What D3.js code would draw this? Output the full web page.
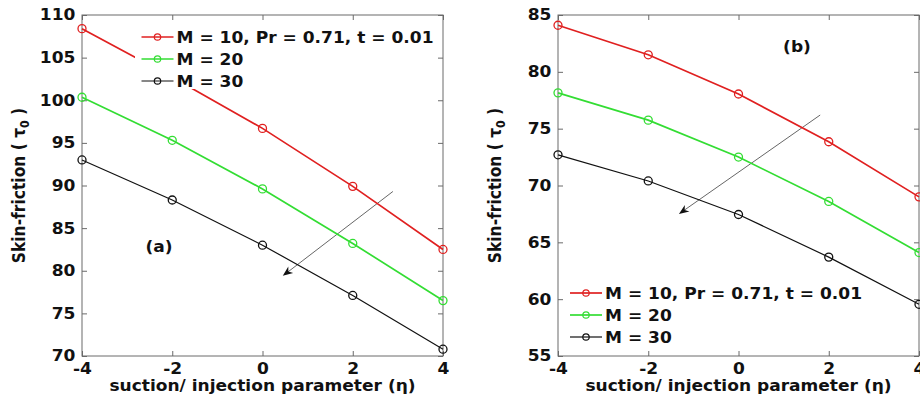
<!DOCTYPE html>
<html>
<head>
<meta charset="utf-8">
<script src="https://cdn.jsdelivr.net/npm/d3@7"></script>
<style>
  html, body { margin: 0; padding: 0; background: #fff; overflow: hidden; }
  svg { display: block; }
  text { font-family: "DejaVu Sans", Verdana, sans-serif; font-weight: bold; fill: #111; }
</style>
</head>
<body>
<svg id="fig" width="920" height="403"></svg>
<script>
// Suction/injection parameter values (x axis)
const eta = [-4, -2, 0, 2, 4];
const xTickLabels = ["-4", "-2", "0", "2", "4"];

// Panel (a): skin-friction for M = 10, 20, 30
const aM10 = [108.4, 102.7, 96.7, 89.9, 82.5];
const aM20 = [100.35, 95.3, 89.6, 83.2, 76.5];
const aM30 = [93.0, 88.3, 83.0, 77.1, 70.8];
const aYTicks = [70, 75, 80, 85, 90, 95, 100, 105, 110];

// Panel (b): skin-friction for M = 10, 20, 30
const bM10 = [84.1, 81.5, 78.05, 73.85, 69.0];
const bM20 = [78.15, 75.75, 72.5, 68.6, 64.1];
const bM30 = [72.7, 70.4, 67.45, 63.7, 59.55];
const bYTicks = [55, 60, 65, 70, 75, 80, 85];

const seriesNames = ["M = 10, Pr = 0.71, t = 0.01", "M = 20", "M = 30"];
const seriesColors = ["#e02020", "#33dd33", "#111111"];
const seriesWidths = [1.7, 1.7, 1.2];

// Arrow annotations (data coordinates: [from, to])
const aArrow = [[2.89, 89.3], [0.45, 79.4]];
const bArrow = [[1.81, 76.2], [-1.32, 67.5]];

const SX = 1.1;            // horizontal text stretch
const FS = 15.5;           // font size
const axisColor = "#6a6a6a";
const svg = d3.select("#fig");

function stretchText(sel) {
  sel.attr("transform", `scale(${SX},1)`);
}

function label(parent, x, y, str, anchor) {
  const g = parent.append("g").attr("transform", `translate(${x},${y})`);
  const t = g.append("text")
    .attr("font-size", FS)
    .attr("text-anchor", anchor || "start")
    .attr("transform", `scale(${SX},1)`)
    .text(str);
  return t;
}

function panel(opts) {
  const { left, right, top, bottom, yDomain, yTicks, data, arrow, tag, tagPos, legendPos, legendBox } = opts;
  const g = svg.append("g");
  const x = d3.scaleLinear().domain([-4, 4]).range([left, right]);
  const y = d3.scaleLinear().domain(yDomain).range([bottom, top]);

  // frame
  g.append("rect")
    .attr("x", left).attr("y", top)
    .attr("width", right - left).attr("height", bottom - top)
    .attr("fill", "none").attr("stroke", axisColor).attr("stroke-width", 1);

  // axes with inward ticks
  const bx = g.append("g").attr("transform", `translate(0,${bottom})`)
    .call(d3.axisBottom(x).tickValues(eta).tickFormat((d, i) => xTickLabels[i])
      .tickSizeInner(-5).tickSizeOuter(0).tickPadding(9));
  const tx = g.append("g").attr("transform", `translate(0,${top})`)
    .call(d3.axisTop(x).tickValues(eta).tickFormat("").tickSizeInner(-5).tickSizeOuter(0));
  const ly = g.append("g").attr("transform", `translate(${left},0)`)
    .call(d3.axisLeft(y).tickValues(yTicks).tickFormat(d3.format("d"))
      .tickSizeInner(-5).tickSizeOuter(0).tickPadding(6));
  const ry = g.append("g").attr("transform", `translate(${right},0)`)
    .call(d3.axisRight(y).tickValues(yTicks).tickFormat("").tickSizeInner(-5).tickSizeOuter(0));
  [bx, tx, ly, ry].forEach(a => {
    a.select(".domain").remove();
    a.selectAll(".tick line").attr("stroke", axisColor);
    a.selectAll("text")
      .attr("font-size", FS)
      .attr("font-family", "DejaVu Sans, Verdana, sans-serif")
      .attr("font-weight", "bold")
      .attr("fill", "#111")
      .call(stretchText);
  });
  bx.selectAll("text").attr("dy", "0.6em");

  // arrow annotation
  const [p0, p1] = arrow;
  const x0 = x(p0[0]), y0 = y(p0[1]), x1 = x(p1[0]), y1 = y(p1[1]);
  const ang = Math.atan2(y1 - y0, x1 - x0);
  const hl = 10, hw = 4;
  const bxp = x1 - hl * Math.cos(ang), byp = y1 - hl * Math.sin(ang);
  g.append("line")
    .attr("x1", x0).attr("y1", y0)
    .attr("x2", x1 - 6 * Math.cos(ang)).attr("y2", y1 - 6 * Math.sin(ang))
    .attr("stroke", "#555").attr("stroke-width", 0.9);
  const nx = -Math.sin(ang), ny = Math.cos(ang);
  const notch = [x1 - 0.7 * hl * Math.cos(ang), y1 - 0.7 * hl * Math.sin(ang)];
  g.append("path")
    .attr("d", `M${x1},${y1}L${bxp + hw * nx},${byp + hw * ny}L${notch[0]},${notch[1]}L${bxp - hw * nx},${byp - hw * ny}Z`)
    .attr("fill", "#111");

  // series
  const line = d3.line().x((d, i) => x(eta[i])).y(d => y(d));
  data.forEach((vals, k) => {
    g.append("path").datum(vals)
      .attr("d", line)
      .attr("fill", "none")
      .attr("stroke", seriesColors[k])
      .attr("stroke-width", seriesWidths[k]);
    g.selectAll(null).data(vals).enter().append("circle")
      .attr("cx", (d, i) => x(eta[i])).attr("cy", d => y(d))
      .attr("r", 4)
      .attr("fill", "none")
      .attr("stroke", seriesColors[k])
      .attr("stroke-width", 1.3);
  });

  // legend
  const lg = g.append("g");
  lg.append("rect")
    .attr("x", legendBox[0]).attr("y", legendBox[1])
    .attr("width", legendBox[2]).attr("height", legendBox[3])
    .attr("fill", "#fff");
  seriesNames.forEach((name, k) => {
    const cy = legendPos.y + k * legendPos.dy;
    lg.append("line")
      .attr("x1", legendPos.x).attr("x2", legendPos.x + 32)
      .attr("y1", cy).attr("y2", cy)
      .attr("stroke", seriesColors[k]).attr("stroke-width", seriesWidths[k]);
    lg.append("circle")
      .attr("cx", legendPos.x + 16).attr("cy", cy).attr("r", 3.2)
      .attr("fill", "none").attr("stroke", seriesColors[k]).attr("stroke-width", 1.2);
    label(lg, legendPos.x + 35, cy + 5.5, name);
  });

  // panel tag
  label(g, tagPos[0], tagPos[1], tag, "middle");

  // axis titles
  const xt = g.append("g").attr("transform", `translate(${(left + right) / 2},391)`);
  xt.append("text").attr("font-size", FS).attr("text-anchor", "middle")
    .attr("transform", `scale(${SX},1)`)
    .text("suction/ injection parameter (η)");

  const yt = g.append("g")
    .attr("transform", `translate(${left - 57},${(top + bottom) / 2}) rotate(-90) scale(1,${SX})`);
  const ytext = yt.append("text").attr("font-size", FS).attr("text-anchor", "middle");
  ytext.append("tspan").text("Skin-friction ( τ");
  ytext.append("tspan").attr("font-size", 11).attr("dy", 4).text("0");
  ytext.append("tspan").attr("dy", -4).text(" )");
}

panel({
  left: 82, right: 443, top: 15, bottom: 356,
  yDomain: [70, 110], yTicks: aYTicks,
  data: [aM10, aM20, aM30],
  arrow: aArrow,
  tag: "(a)", tagPos: [159, 252],
  legendPos: { x: 141.5, y: 37, dy: 22 },
  legendBox: [135, 22, 303, 67]
});

panel({
  left: 558, right: 919, top: 15, bottom: 356,
  yDomain: [55, 85], yTicks: bYTicks,
  data: [bM10, bM20, bM30],
  arrow: bArrow,
  tag: "(b)", tagPos: [797, 52],
  legendPos: { x: 570, y: 293, dy: 22 },
  legendBox: [565, 280, 300, 66]
});
</script>
</body>
</html>
